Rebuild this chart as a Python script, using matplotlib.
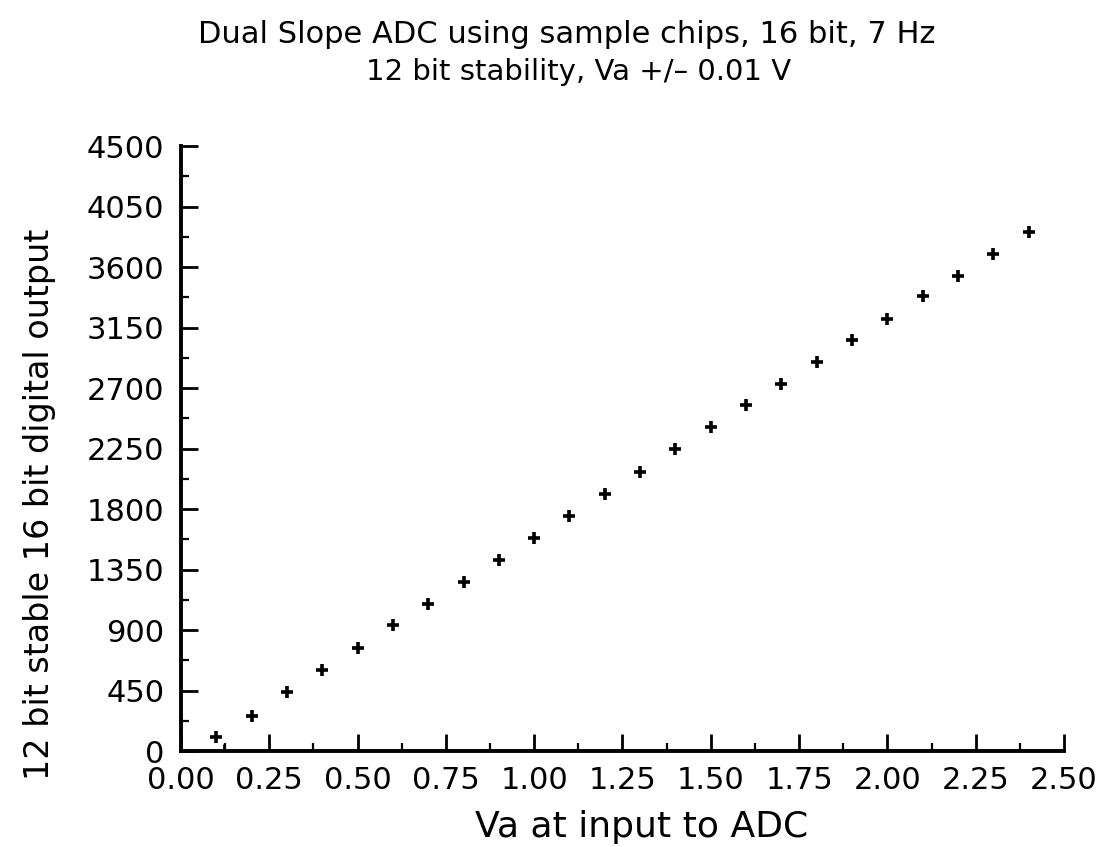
import matplotlib
matplotlib.use("Agg")
import matplotlib.pyplot as plt
from matplotlib.ticker import MultipleLocator, FormatStrFormatter

plt.rcParams['font.family'] = ['DejaVu Sans']

# ADC readings: input voltage vs. digital output
va = [0.1, 0.2, 0.3, 0.4, 0.5, 0.6, 0.7, 0.8, 0.9, 1.0, 1.1, 1.2,
      1.3, 1.4, 1.5, 1.6, 1.7, 1.8, 1.9, 2.0, 2.1, 2.2, 2.3, 2.4]
counts = [102, 263, 442, 604, 770, 934, 1095, 1257, 1418, 1587, 1746, 1915,
          2079, 2248, 2407, 2571, 2733, 2891, 3055, 3217, 3381, 3534, 3696, 3862]
# stray reading near the origin
stray_va = [0.122]
stray_counts = [32]

fig = plt.figure(figsize=(11.02, 8.47), dpi=100)
ax = fig.add_axes([0.1642, 0.1133, 0.8013, 0.7143])

ax.plot(va, counts, linestyle='none', marker='+', markersize=8,
        markeredgewidth=2.6, color='black')
ax.plot(stray_va, stray_counts, linestyle='none', marker='|', markersize=5,
        markeredgewidth=2, color='black')

ax.set_xlim(0, 2.5)
ax.set_ylim(0, 4500)
ax.xaxis.set_major_locator(MultipleLocator(0.25))
ax.xaxis.set_minor_locator(MultipleLocator(0.125))
ax.yaxis.set_major_locator(MultipleLocator(450))
ax.yaxis.set_minor_locator(MultipleLocator(225))
ax.xaxis.set_major_formatter(FormatStrFormatter('%.2f'))

for side in ['top', 'right']:
    ax.spines[side].set_visible(False)
for side in ['left', 'bottom']:
    ax.spines[side].set_linewidth(2.8)

ax.tick_params(which='major', direction='in', length=12, width=2,
               labelsize=22, pad=11)
ax.tick_params(which='minor', direction='in', length=6, width=1.6)
ax.tick_params(axis='y', which='major', pad=12)

fig.text(0.514, 0.949, 'Dual Slope ADC using sample chips, 16 bit, 7 Hz',
         ha='center', va='baseline', fontsize=22)
fig.text(0.525, 0.906, '12 bit stability, Va +/\u2013 0.01 V',
         ha='center', va='baseline', fontsize=21)
fig.text(0.582, 0.012, 'Va at input to ADC', ha='center', va='baseline',
         fontsize=26)
fig.text(0.036, 0.405, '12 bit stable 16 bit digital output', ha='center',
         va='center', rotation=90, fontsize=24)

fig.savefig('out.png', dpi=100)
